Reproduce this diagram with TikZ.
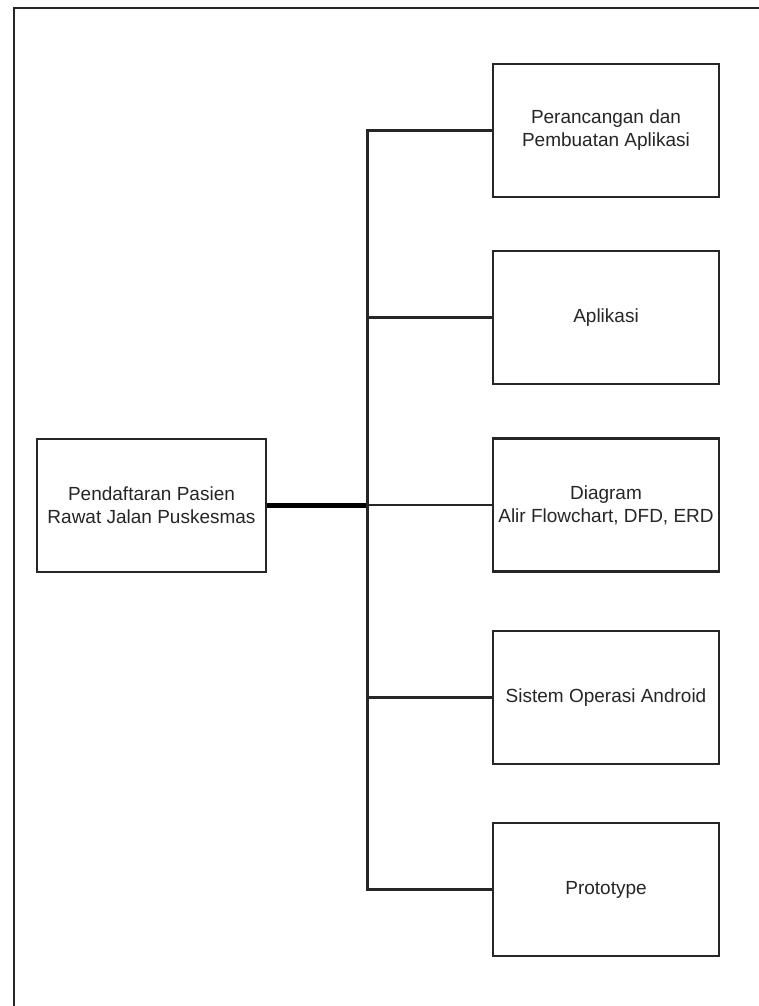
\documentclass[tikz,border=0pt]{standalone}
\usepackage{fontspec}
\setmainfont{Liberation Sans}
\begin{document}
\begin{tikzpicture}[x=1pt,y=-1pt,
  box/.style={draw=black!85,line width=2.6pt,minimum width=226pt,minimum height=133pt,inner sep=0pt,align=center,
    font=\fontsize{19}{23}\selectfont,text=black!85},
  mainbox/.style={box,minimum width=229pt},
  link/.style={draw=black!85,line width=2.5pt},
  thin link/.style={draw=black!85,line width=1.6pt},
  thick link/.style={draw=black,line width=4.2pt},
  frame/.style={draw=black!85,line width=2.6pt}]
\useasboundingbox (0,0) rectangle (759,1006);
\fill[white] (0,0) rectangle (759,1006);
\draw[frame] (14,1010) -- (14,8) -- (763,8);
\node[mainbox] (main) at (151.5,505.5) {Pendaftaran Pasien\\Rawat Jalan Puskesmas};
\node[box] (b1) at (606,130.5) {Perancangan dan\\Pembuatan Aplikasi};
\node[box] (b2) at (606,317.5) {Aplikasi};
\node[box] (b3) at (606,505) {Diagram\\Alir Flowchart, DFD, ERD};
\node[box] (b4) at (606,697.5) {Sistem Operasi Android};
\node[box] (b5) at (606,889.5) {Prototype};
\coordinate (top) at (367.5,130.5);
\coordinate (bot) at (367.5,889.5);
\coordinate (mid) at (367.5,505.5);
\draw[thick link] (main.east) -- (mid);
\draw[link,line join=miter] (b1.west) -- (top) -- (bot) -- (b5.west);
\draw[link] (b2.west) -- (b2.west -| top);
\draw[thin link] (b3.west) -- (b3.west -| top);
\draw[link] (b4.west) -- (b4.west -| top);
\end{tikzpicture}
\end{document}
